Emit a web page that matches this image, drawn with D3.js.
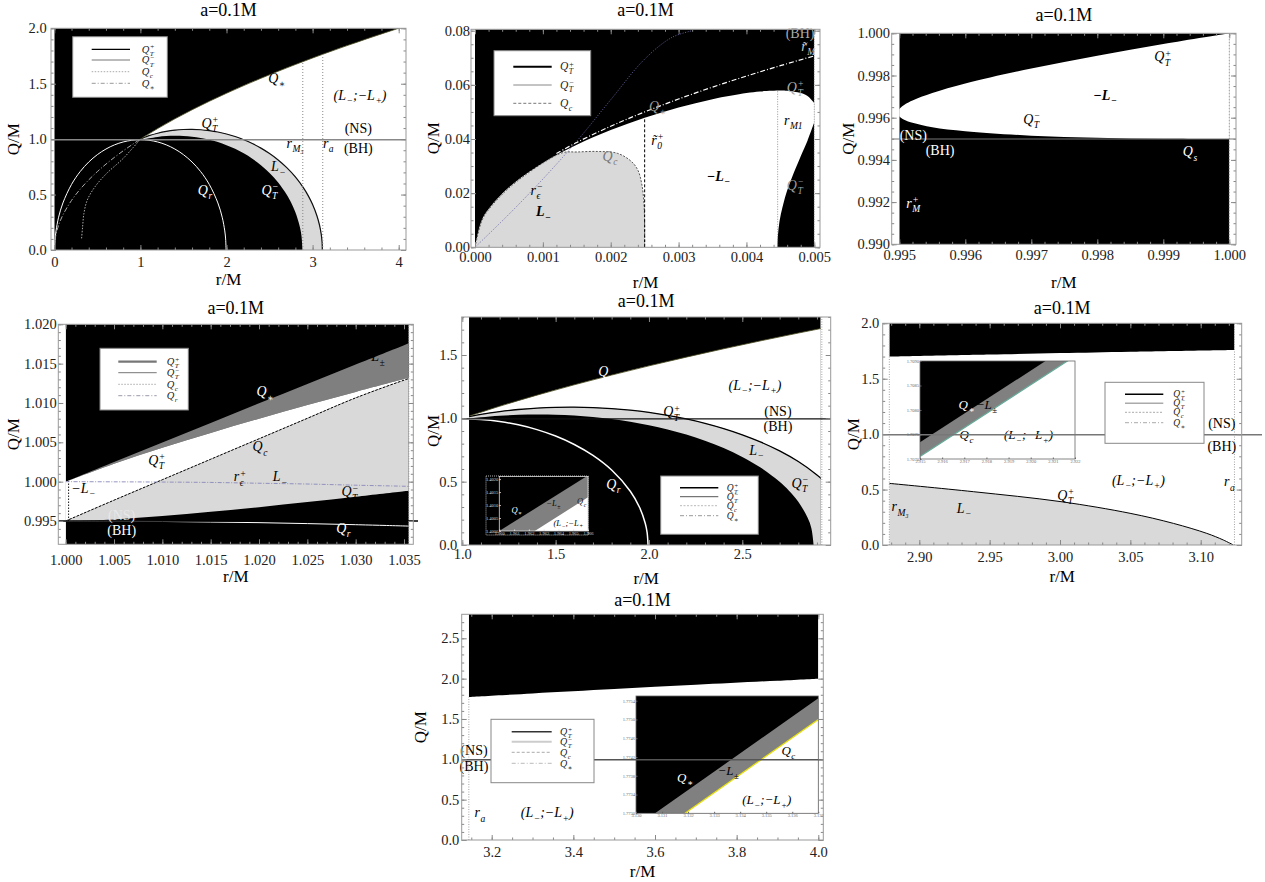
<!DOCTYPE html>
<html>
<head>
<meta charset="utf-8">
<script src="https://cdn.jsdelivr.net/npm/d3@7"></script>
<style>
  body { margin: 0; background: #fff; }
  svg text { font-family: "Liberation Serif", "DejaVu Serif", serif; }
  .ax text { font-size: 14.5px; fill: #222; }
  .ax line { stroke: #888; }
  .inax text { font-size: 4.5px; }
</style>
</head>
<body>
<svg id="fig" width="1265" height="882"></svg>
<script>
// ---------- curves shared by panels 1 and 5 ----------
var qtPlusR  = [1.0,1.01,1.02,1.03,1.05,1.1,1.2,1.3,1.4,1.5,1.6,1.7,1.8,1.9,2.0,2.1,2.2,2.3,2.4,2.5,2.6,2.7,2.8,2.9,2.95,3.0,3.05,3.08,3.1,3.11,3.113];
var qtPlusQ  = [1.0,1.0043,1.0080,1.0114,1.0177,1.0315,1.0535,1.0698,1.0808,1.0869,1.0883,1.0850,1.0770,1.0642,1.0465,1.0235,0.9950,0.9604,0.9191,0.8700,0.8120,0.7427,0.6587,0.5533,0.4883,0.4100,0.3090,0.2255,0.1430,0.0718,0];
var qtMinusR = [1.0,1.01,1.02,1.03,1.05,1.1,1.2,1.3,1.4,1.5,1.6,1.7,1.8,1.9,2.0,2.1,2.2,2.3,2.4,2.5,2.6,2.7,2.75,2.8,2.85,2.87,2.882];
var qtMinusQ = [0.995,0.9956,0.9968,0.9981,1.0009,1.0080,1.0198,1.0274,1.0305,1.0289,1.0225,1.0114,0.9950,0.9734,0.9460,0.9124,0.8720,0.8232,0.7652,0.6950,0.6089,0.4985,0.4285,0.3410,0.2150,0.1330,0];
var qStarR   = [0,0.005,0.02,0.05,0.1,0.2,0.3,0.4,0.5,0.6,0.7,0.8,0.9,1.0,1.2,1.4,1.6,1.8,2.0,2.2,2.4,2.6,2.8,3.0,3.2,3.4,3.6,3.8,4.0,4.1];
var qStarQ   = [0,0.0707,0.1414,0.2236,0.3162,0.4472,0.5477,0.6325,0.7071,0.7746,0.8367,0.8944,0.9487,1.0,1.0954,1.1832,1.2649,1.3416,1.4142,1.4832,1.5492,1.6125,1.6733,1.7321,1.7889,1.8439,1.8974,1.9494,2.0,2.0248];
var qHorR    = [0.005,0.01,0.02,0.05,0.1,0.2,0.3,0.4,0.5,0.6,0.7,0.8,0.9,1.0,1.1,1.2,1.3,1.4,1.5,1.6,1.7,1.8,1.9,1.95,1.98,1.99,1.995];
var qHorQ    = [0,0.0995,0.1720,0.2958,0.4243,0.5916,0.7071,0.7937,0.8602,0.9110,0.9487,0.9747,0.9899,0.9950,0.9899,0.9747,0.9487,0.9110,0.8602,0.7937,0.7071,0.5916,0.4243,0.2958,0.1720,0.0995,0];
var qNS = 0.995;   // NS / BH border

// ---------- panel 1 ----------
var p1QcR = [0.317,0.329,0.344,0.383,0.472,0.607,0.80,1.0];
var p1QcQ = [0.105,0.21,0.33,0.45,0.57,0.69,0.826,1.0];
var p1VR  = [2.886, 3.118];
var p1VQ  = [1.699, 1.766];

// ---------- panel 2 ----------
var p2UpR  = [0,0.0001,0.0002,0.0005,0.001,0.0015,0.002,0.0025,0.003,0.0035,0.004,0.0042,0.0045,0.0046,0.0048,0.0049,0.005];
var p2UpQ  = [0,0.00999,0.01411,0.02221,0.03118,0.03786,0.04328,0.04782,0.05162,0.05471,0.05697,0.05756,0.05790,0.05780,0.05696,0.0559,0.0533];
var p2LoR  = [0.005,0.0049,0.0048,0.0046,0.0045,0.00448,0.00447,0.00446,0.004458];
var p2LoQ  = [0.0462,0.03938,0.03365,0.02094,0.0113,0.00817,0.00606,0.0026,0];
var p2QcR  = [0,0.0001,0.0002,0.0005,0.001,0.0013,0.0015,0.0018,0.0021,0.0023,0.0024,0.00246,0.00249,0.0025,0.0025];
var p2QcQ  = [0,0.0098,0.0139,0.0219,0.0311,0.0350,0.0352,0.0354,0.0347,0.0318,0.0285,0.0230,0.0160,0.008,0];
var p2StarR = [0.0012,0.0015,0.002,0.0025,0.003,0.0035,0.004,0.0045,0.005];
var p2StarQ = [0.03464,0.03873,0.04472,0.05,0.05477,0.05916,0.06325,0.06708,0.07071];
var p2EpsR = [0,0.0005,0.001,0.0015,0.002,0.0025,0.0029,0.0032];
var p2EpsQ = [0,0.0122,0.0252,0.0392,0.0545,0.0695,0.0775,0.0800];

// ---------- panel 3 ----------
var p3R   = [0.994975,0.995,0.9951,0.9952,0.9955,0.996,0.997,0.998,0.999,1.0];
var p3UpQ = [0.99623,0.99641,0.99666,0.99682,0.99717,0.99762,0.99833,0.99894,0.99949,1.0];
var p3LoQ = [0.99623,0.99606,0.99587,0.99576,0.99555,0.99536,0.99515,0.99505,0.99500,0.99499];

// ---------- panel 4 ----------
var p4R      = [1.0,1.005,1.01,1.015,1.02,1.025,1.03,1.035,1.0355];
var p4Star   = [1.0,1.0025,1.00499,1.00747,1.00995,1.01242,1.01489,1.01735,1.01760];
var p4Plus   = [1.0,1.00228,1.00431,1.00620,1.00800,1.00973,1.01141,1.01304,1.01320];
var p4Qc     = [0.995,0.99765,1.00025,1.00285,1.00545,1.00805,1.01065,1.0129,1.0131];
var p4Minus  = [0.99499,0.99519,0.99562,0.99616,0.99676,0.99740,0.99807,0.99877,0.99883];
var p4Eps    = [1.0,0.99998,0.99995,0.9999,0.9998,0.9997,0.99955,0.99942,0.9994];
var p4Qr     = [0.99499,0.99498,0.99494,0.99487,0.99479,0.99467,0.99453,0.99437,0.99435];

// ---------- panel 5 inset ----------
var p5InStarR = [1.9600,1.9660], p5InStarQ = [1.40000,1.40214];
var p5InQcR   = [1.9624,1.9660], p5InQcQ   = [1.40000,1.40130];

// ---------- panel 6 ----------
var p6PlusR = [2.8787,2.9384,3.0007,3.0498,3.0806,3.1043,3.1161,3.1232];
var p6PlusQ = [0.556,0.481,0.391,0.286,0.195,0.105,0.045,0];
var p6StarR = [2.8787,2.95,3.00,3.05,3.124];
var p6StarQ = [1.699,1.718,1.731,1.744,1.760];
var p6InStarR = [2.915,2.922], p6InStarQ = [1.70734,1.70939];
var p6InQcR   = [2.915,2.922], p6InQcQ   = [1.70705,1.70910];

// ---------- panel 7 ----------
var p7StarR = [3.144,3.3,3.5,3.7,3.9,4.0];
var p7StarQ = [1.7731,1.8166,1.8708,1.9235,1.9748,2.0];
var p7InStarR = [3.13073,3.137], p7InStarQ = [1.7730,1.77545];
var p7InQcR   = [3.13188,3.137], p7InQcQ   = [1.7730,1.7750];

// ---------- tick labels ----------
var p1Xt = [0,1,2,3,4],                           p1Yt = [0,0.5,1,1.5,2];
var p2Xt = [0,0.001,0.002,0.003,0.004,0.005],     p2Yt = [0,0.02,0.04,0.06,0.08];
var p3Xt = [0.995,0.996,0.997,0.998,0.999,1.0],   p3Yt = [0.990,0.992,0.994,0.996,0.998,1.0];
var p4Xt = [1.0,1.005,1.01,1.015,1.02,1.025,1.03,1.035], p4Yt = [0.995,1.0,1.005,1.01,1.015,1.02];
var p5Xt = [1.0,1.5,2.0,2.5],                     p5Yt = [0,0.5,1.0,1.5];
var p6Xt = [2.9,2.95,3.0,3.05,3.1],               p6Yt = [0,0.5,1.0,1.5,2.0];
var p7Xt = [3.2,3.4,3.6,3.8,4.0],                 p7Yt = [0,0.5,1.0,1.5,2.0,2.5];
var p5InXt = [1.960,1.961,1.962,1.963,1.964,1.965,1.966], p5InYt = [1.4000,1.4005,1.4010,1.4015,1.4020];
var p6InXt = [2.915,2.916,2.917,2.918,2.919,2.920,2.921,2.922], p6InYt = [1.7070,1.7075,1.7080,1.7085,1.7090];
var p7InXt = [3.130,3.131,3.132,3.133,3.134,3.135,3.136,3.137], p7InYt = [1.7730,1.7734,1.7738,1.7742,1.7746,1.7750,1.7754];

var title = 'a=0.1M';

// ---------- drawing helpers ----------
var svg = d3.select('#fig');
svg.append('rect').attr('width', 1265).attr('height', 882).attr('fill', '#fff');
var clipId = 0;
var smooth = d3.curveCatmullRom.alpha(0.5);

function gen(p, pts) {
  return d3.line()
    .x(function(d) { return p.x(d[0]); })
    .y(function(d) { return p.y(d[1]); })
    .curve(pts.length > 2 ? smooth : d3.curveLinear)(pts);
}
// one closed outline made of several pieces
function area(layer, p, segs, fill) {
  var d = segs.map(function(s, i) {
    var s2 = gen(p, s).replace(/Z/g, '');
    return i ? 'L' + s2.slice(1) : s2;
  }).join('') + 'Z';
  layer.append('path').attr('d', d).attr('fill', fill);
}
function curve(layer, p, pts, stroke, w, dash) {
  layer.append('path').attr('d', gen(p, pts)).attr('fill', 'none')
    .attr('stroke', stroke).attr('stroke-width', w).attr('stroke-dasharray', dash || null);
}
function rev(a) { return a.slice().reverse(); }

// text with sub/superscripts: "Q_T^+", "r_{M1}", "(L_−;−L_+)"
function mtext(parent, x, y, str, o) {
  o = o || {};
  var fs = o.size || 14;
  var g = parent.append('g').attr('fill', o.color || '#000')
    .style('font-style', o.upright ? 'normal' : 'italic')
    .style('font-weight', o.bold ? 'bold' : 'normal');
  var toks = [], i = 0;
  while (i < str.length) {
    var ch = str[i];
    if (ch === '_' || ch === '^') {
      var t;
      if (str[i + 1] === '{') { var j = str.indexOf('}', i); t = str.slice(i + 2, j); i = j + 1; }
      else { t = str[i + 1]; i += 2; }
      toks.push({ k: ch, t: t });
    } else {
      var last = toks[toks.length - 1];
      if (last && last.k === 'n') last.t += ch; else toks.push({ k: 'n', t: ch });
      i++;
    }
  }
  var cx = 0, k = 0;
  while (k < toks.length) {
    if (toks[k].k === 'n') {
      var el = g.append('text').attr('x', cx).attr('y', 0).style('font-size', fs + 'px').text(toks[k].t);
      cx += el.node().getComputedTextLength(); k++;
    } else {
      var w = 0;
      while (k < toks.length && toks[k].k !== 'n') {
        var s = toks[k];
        var el2 = g.append('text').attr('x', cx + 0.5).attr('y', s.k === '_' ? fs * 0.3 : -fs * 0.34)
          .style('font-size', (fs * 0.68) + 'px').text(s.t);
        w = Math.max(w, el2.node().getComputedTextLength() + 0.5); k++;
      }
      cx += w;
    }
  }
  var dx = o.anchor === 'start' ? 0 : (o.anchor === 'end' ? -cx : -cx / 2);
  g.attr('transform', 'translate(' + (x + dx) + ',' + (y + fs * 0.33) + ')');
  return g;
}
function labels(layer, p, arr, size) {
  arr.forEach(function(l) {
    var f = l[4] || '';
    mtext(layer, p.x(l[0]), p.y(l[1]), l[2], {
      color: l[3], size: size || 14, upright: f.indexOf('u') >= 0, bold: f.indexOf('b') >= 0
    });
  });
}

function makePanel(c) {
  var p = { c: c };
  p.g = svg.append('g');
  p.x = d3.scaleLinear().domain(c.xd).range(c.xr);
  p.y = d3.scaleLinear().domain(c.yd).range(c.yr);
  var b = c.clip, id = 'clip' + (clipId++);
  p.g.append('clipPath').attr('id', id).append('rect')
    .attr('x', p.x(b[0])).attr('y', p.y(b[3]))
    .attr('width', p.x(b[1]) - p.x(b[0])).attr('height', p.y(b[2]) - p.y(b[3]));
  p.fill = p.g.append('g').attr('clip-path', 'url(#' + id + ')');
  var f = c.frame, fid = 'clip' + (clipId++);
  p.g.append('clipPath').attr('id', fid).append('rect')
    .attr('x', f[0]).attr('y', f[1]).attr('width', f[2] - f[0]).attr('height', f[3] - f[1]);
  p.over = p.g.append('g').attr('clip-path', 'url(#' + fid + ')');
  if (c.base) {
    p.fill.append('rect').attr('x', p.x(b[0])).attr('y', p.y(b[3]))
      .attr('width', p.x(b[1]) - p.x(b[0])).attr('height', p.y(b[2]) - p.y(b[3])).attr('fill', c.base);
  }
  return p;
}

function minorTicks(a, b, s) {
  var out = [];
  for (var i = Math.ceil(a / s - 1e-9); i * s <= b + 1e-12; i++) out.push(+(i * s).toFixed(10));
  return out;
}

function finish(p) {
  var c = p.c, f = c.frame, g = p.g.append('g');
  var xm = minorTicks(p.x.invert(f[0]), p.x.invert(f[2]), c.xm);
  var ym = minorTicks(p.y.invert(f[3]), p.y.invert(f[1]), c.ym);
  function put(axis, tr) {
    g.append('g').attr('class', 'ax').attr('transform', tr).call(axis)
      .call(function(s) { s.select('.domain').remove(); });
  }
  put(d3.axisBottom(p.x).tickValues(c.xt).tickFormat(d3.format(c.xf)).tickSize(-5).tickPadding(c.xp), 'translate(0,' + f[3] + ')');
  put(d3.axisBottom(p.x).tickValues(xm).tickFormat('').tickSize(-2.5), 'translate(0,' + f[3] + ')');
  put(d3.axisTop(p.x).tickValues(c.xt).tickFormat('').tickSize(-5), 'translate(0,' + f[1] + ')');
  put(d3.axisTop(p.x).tickValues(xm).tickFormat('').tickSize(-2.5), 'translate(0,' + f[1] + ')');
  put(d3.axisLeft(p.y).tickValues(c.yt).tickFormat(d3.format(c.yf)).tickSize(-5).tickPadding(c.yp), 'translate(' + f[0] + ',0)');
  put(d3.axisLeft(p.y).tickValues(ym).tickFormat('').tickSize(-2.5), 'translate(' + f[0] + ',0)');
  put(d3.axisRight(p.y).tickValues(c.yt).tickFormat('').tickSize(-5), 'translate(' + f[2] + ',0)');
  put(d3.axisRight(p.y).tickValues(ym).tickFormat('').tickSize(-2.5), 'translate(' + f[2] + ',0)');
  g.append('rect').attr('x', f[0]).attr('y', f[1]).attr('width', f[2] - f[0]).attr('height', f[3] - f[1])
    .attr('fill', 'none').attr('stroke', '#999').attr('stroke-width', 1);
  var cx = (f[0] + f[2]) / 2;
  g.append('text').attr('x', cx + (c.tdx || 0)).attr('y', c.ty).attr('text-anchor', 'middle')
    .style('font-size', '18px').text(title);
  g.append('text').attr('x', cx).attr('y', c.ry).attr('text-anchor', 'middle')
    .style('font-size', '17px').text('r/M');
  g.append('text').attr('transform', 'translate(' + c.qx + ',' + ((f[1] + f[3]) / 2) + ') rotate(-90)')
    .attr('text-anchor', 'middle').style('font-size', '17px').text('Q/M');
}

function hline(p, q, x0, x1, stroke, w) {
  p.g.append('line').attr('x1', x0).attr('x2', x1).attr('y1', p.y(q)).attr('y2', p.y(q))
    .attr('stroke', stroke).attr('stroke-width', w);
}

function legend(p, L) {
  var b = L.box, g = p.g.append('g');
  g.append('rect').attr('x', b[0]).attr('y', b[1]).attr('width', b[2] - b[0]).attr('height', b[3] - b[1])
    .attr('fill', '#fff').attr('stroke', '#888').attr('stroke-width', 1);
  L.rows.forEach(function(r, i) {
    g.append('line').attr('x1', L.lx[0]).attr('x2', L.lx[1]).attr('y1', L.ys[i]).attr('y2', L.ys[i])
      .attr('stroke', r[1]).attr('stroke-width', r[2]).attr('stroke-dasharray', r[3] || null);
    mtext(g, L.tx, L.ys[i], r[0], { size: L.size || 10.5, anchor: 'start', color: '#222' });
  });
}

function inset(p, c) {
  var g = p.g.append('g');
  var q = {
    x: d3.scaleLinear().domain(c.xd).range([c.box[0], c.box[2]]),
    y: d3.scaleLinear().domain(c.yd).range([c.box[3], c.box[1]])
  };
  var b = c.box;
  if (c.outer) {
    g.append('rect').attr('x', c.outer[0]).attr('y', c.outer[1])
      .attr('width', c.outer[2] - c.outer[0]).attr('height', c.outer[3] - c.outer[1])
      .attr('fill', c.outerFill).attr('stroke', c.tc).attr('stroke-width', 0.8).attr('stroke-dasharray', '1,1');
  }
  var id = 'clip' + (clipId++);
  g.append('clipPath').attr('id', id).append('rect')
    .attr('x', b[0]).attr('y', b[1]).attr('width', b[2] - b[0]).attr('height', b[3] - b[1]);
  var L = g.append('g').attr('clip-path', 'url(#' + id + ')');
  L.append('rect').attr('x', b[0]).attr('y', b[1]).attr('width', b[2] - b[0]).attr('height', b[3] - b[1]).attr('fill', '#000');
  var x0 = c.xd[0], x1 = c.xd[1], y0 = c.yd[0];
  area(L, q, [d3.zip(c.starR, c.starQ), [[x1, y0], [x0, y0]]], '#808080');
  area(L, q, [d3.zip(c.qcR, c.qcQ), [[x1, y0], [x0, y0]]], '#fff');
  if (c.qcLine) curve(L, q, d3.zip(c.qcR, c.qcQ), c.qcLine, 1.2);
  function put(axis, tr) {
    g.append('g').attr('class', 'ax inax').attr('transform', tr).call(axis)
      .call(function(s) {
        s.select('.domain').remove();
        s.selectAll('text').style('fill', c.tc);
        s.selectAll('line').style('stroke', c.tc);
      });
  }
  put(d3.axisBottom(q.x).tickValues(c.xt).tickFormat(d3.format('.3f')).tickSize(-1.5).tickPadding(1), 'translate(0,' + b[3] + ')');
  put(d3.axisLeft(q.y).tickValues(c.yt).tickFormat(d3.format('.4f')).tickSize(-1.5).tickPadding(1), 'translate(' + b[0] + ',0)');
  g.append('rect').attr('x', b[0]).attr('y', b[1]).attr('width', b[2] - b[0]).attr('height', b[3] - b[1])
    .attr('fill', 'none').attr('stroke', c.tc).attr('stroke-width', 0.8);
  labels(g, q, c.labels, c.lsize);
  return q;
}

// ================= panel 1 =================
var plus = d3.zip(qtPlusR, qtPlusQ), minus = d3.zip(qtMinusR, qtMinusQ);
var star = d3.zip(qStarR, qStarQ), hor = d3.zip(qHorR, qHorQ);
var starOut = star.filter(function(d) { return d[0] >= 1; });
var starIn = star.filter(function(d) { return d[0] <= 1; });

var p1 = makePanel({ xd: [0, 4], xr: [54.3, 398.7], yd: [0, 2], yr: [250, 28.3], frame: [51, 28.3, 406, 250],
  clip: [0, 4.085, 0, 2], base: '#000', xt: p1Xt, yt: p1Yt, xf: 'd', yf: '.1f', xm: 0.2, ym: 0.1, xp: 6.8, yp: 4.3,
  ty: 15.5, ry: 285, qx: 19 });
area(p1.fill, p1, [starOut, [[4.1, 0]], rev(plus)], '#fff');
area(p1.fill, p1, [plus, rev(minus)], '#d9d9d9');
curve(p1.fill, p1, hor, '#fff', 1);
curve(p1.fill, p1, starIn, '#aaa', 1, '5,2,1,2');
curve(p1.fill, p1, d3.zip(p1QcR, p1QcQ), '#aaa', 1, '1.5,1.5');
curve(p1.fill, p1, plus, '#111', 1.2);
curve(p1.fill, p1, starOut, '#4a4a20', 0.8);
p1VR.forEach(function(r, i) { curve(p1.fill, p1, [[r, 0], [r, p1VQ[i]]], '#888', 1, '1,2'); });
hline(p1, qNS, 51, 406, '#888', 1.6);
legend(p1, { box: [72.7, 36.7, 167.3, 97.3], lx: [91.7, 130], tx: 141.7, ys: [49.3, 60, 71.7, 83.3],
  rows: [['Q_T^+', '#000', 1.2], ['Q_T^−', '#777', 1], ['Q_c', '#aaa', 1, '1.5,1.5'], ['Q_∗', '#999', 1, '4,2,1,2']] });
labels(p1.g, p1, [
  [2.583, 1.549, 'Q_∗', '#000'], [3.551, 1.398, '(L_−;−L_+)', '#000'], [1.808, 1.143, 'Q_T^+', '#000'],
  [3.531, 1.098, '(NS)', '#000', 'u'], [3.531, 0.917, '(BH)', '#000', 'u'], [2.796, 0.963, 'r_{M₃}', '#000'],
  [3.182, 0.963, 'r_a', '#000'], [2.602, 0.751, 'L_−', '#000'], [2.505, 0.541, 'Q_T^−', '#fff'], [1.750, 0.541, 'Q_r', '#fff']
]);
finish(p1);

// ================= panel 2 =================
var p2 = makePanel({ xd: [0, 0.005], xr: [475, 814.3], yd: [0, 0.08], yr: [247.3, 30.7], frame: [471, 29.3, 820, 247.3],
  clip: [0, 0.005, 0, 0.0805], base: '#000', xt: p2Xt, yt: p2Yt, xf: '.3f', yf: '.2f', xm: 0.0002, ym: 0.005, xp: 4.5, yp: 1,
  ty: 15.5, ry: 288, qx: 439 });
area(p2.fill, p2, [d3.zip(p2UpR, p2UpQ), d3.zip(p2LoR, p2LoQ)], '#fff');
area(p2.fill, p2, [d3.zip(p2QcR, p2QcQ)], '#d9d9d9');
curve(p2.fill, p2, d3.zip(p2QcR, p2QcQ), '#555', 1, '2,1.5');
curve(p2.fill, p2, d3.zip(p2EpsR, p2EpsQ), '#6a6aaa', 0.9, '1,1.5');
curve(p2.fill, p2, d3.zip(p2StarR, p2StarQ), '#fff', 1.2, '5,2,1,2');
curve(p2.fill, p2, [[0.0025, 0], [0.0025, 0.0478]], '#000', 1, '3,2');
curve(p2.fill, p2, [[0.00446, 0], [0.00446, 0.0579]], '#888', 0.9, '1,1.5');
curve(p2.over, p2, [[0.005, 0], [0.005, 0.0805]], '#999', 0.9, '1,1.5');
legend(p2, { box: [494, 50.7, 590.7, 115.7], lx: [513.3, 551.7], tx: 560, ys: [66.7, 85, 103.3], size: 11.5,
  rows: [['Q_T^+', '#000', 2], ['Q_T^−', '#888', 1], ['Q_c', '#777', 1, '3,2']] });
labels(p2.g, p2, [
  [0.00479, 0.0790, '(BH)', '#aaa', 'u'], [0.00491, 0.0741, 'r̃_M', '#ccc'], [0.00472, 0.0591, 'Q_T^+', '#aaa'],
  [0.00469, 0.0470, 'r_{M1}', '#000'], [0.00472, 0.0230, 'Q_T^−', '#999'], [0.003586, 0.0261, '−L_−', '#000', 'b'],
  [0.001007, 0.01315, 'L_−', '#000', 'b'], [0.00091, 0.0212, 'r_ϵ^−', '#000'], [0.00199, 0.0337, 'Q_c', '#777'],
  [0.00269, 0.0522, 'Q_∗', '#999'], [0.00269, 0.0396, 'r̃_0^+', '#000']
]);
finish(p2);

// ================= panel 3 =================
var p3 = makePanel({ xd: [0.995, 1.0], xr: [899.3, 1229.3], yd: [0.99, 1.0], yr: [244.3, 33.3], frame: [891.7, 33.3, 1236, 244.3],
  clip: [0.995, 1.0, 0.99, 1.0], base: '#000', xt: p3Xt, yt: p3Yt, xf: '.3f', yf: '.3f', xm: 0.0002, ym: 0.0005, xp: 5.8, yp: 1.7,
  ty: 20.5, ry: 288, qx: 854 });
area(p3.fill, p3, [d3.zip(p3R, p3UpQ), rev(d3.zip(p3R, p3LoQ))], '#fff');
hline(p3, 0.99499, 891.7, 1236, '#777', 1.2);
curve(p3.over, p3, [[1.0, 0.99], [1.0, 1.0]], '#999', 0.9, '1.5,1.5');
labels(p3.g, p3, [
  [0.998991, 0.998891, 'Q_T^+', '#000'], [0.998117, 0.997076, '−L_−', '#000', 'b'], [0.997006, 0.995924, 'Q_T^−', '#000'],
  [0.995212, 0.99518, '(NS)', '#fff', 'u'], [0.995617, 0.994436, '(BH)', '#fff', 'u'], [0.999405, 0.994389, 'Q_s', '#fff'],
  [0.995212, 0.991943, 'r_M^+', '#fff']
]);
finish(p3);

// ================= panel 4 =================
var p4 = makePanel({ xd: [1.0, 1.035], xr: [65.7, 404], yd: [0.995, 1.02], yr: [521, 324.3], frame: [58.3, 324.3, 413.3, 544.3],
  clip: [1.0, 1.0355, 0.99203, 1.02], base: '#000', xt: p4Xt, yt: p4Yt, xf: '.3f', yf: '.3f', xm: 0.001, ym: 0.001, xp: 10.8, yp: 1.6,
  ty: 313.5, ry: 582, qx: 19 });
area(p4.fill, p4, [d3.zip(p4R, p4Star), rev(d3.zip(p4R, p4Plus))], '#7f7f7f');
area(p4.fill, p4, [d3.zip(p4R, p4Plus), rev(d3.zip(p4R, p4Qc))], '#fff');
area(p4.fill, p4, [d3.zip(p4R, p4Qc), rev(d3.zip(p4R, p4Minus))], '#d9d9d9');
curve(p4.fill, p4, d3.zip(p4R, p4Qc), '#000', 1, '2.5,1.5');
curve(p4.fill, p4, d3.zip(p4R, p4Eps), '#8888bb', 0.9, '4,1.5,1,1.5');
curve(p4.fill, p4, d3.zip(p4R, p4Qr), '#fff', 1);
curve(p4.fill, p4, [[1.0003, 0.995], [1.0003, 1.0]], '#000', 0.9, '1.5,1.5');
curve(p4.over, p4, [[1.0355, 0.99203], [1.0355, 1.02]], '#999', 0.9, '1,1.5');
hline(p4, qNS, 58.3, 418, '#000', 1.3);
legend(p4, { box: [100, 348.3, 188.3, 410], lx: [118.3, 156.7], tx: 166.7, ys: [361.7, 372.7, 384.3, 395.7],
  rows: [['Q_T^+', '#777', 2.2], ['Q_T^−', '#777', 1], ['Q_c', '#aaa', 1, '1.5,1.5'], ['Q_r', '#99a', 1, '4,2,1,2']] });
labels(p4.g, p4, [
  [1.02062, 1.01143, 'Q_∗', '#fff'], [1.03182, 1.01588, '−L_±', '#000'], [1.00941, 1.00275, 'Q_T^+', '#000'],
  [1.0201, 1.00444, 'Q_c', '#000'], [1.01803, 1.00063, 'r_ϵ^+', '#000'], [1.02217, 1.00063, 'L_−', '#000'],
  [1.00182, 0.99916, '−L_−', '#000'], [1.02941, 0.99872, 'Q_T^−', '#000'], [1.00579, 0.99576, '(NS)', '#e8e8e8', 'u'],
  [1.00579, 0.99386, '(BH)', '#fff', 'u'], [1.02872, 0.99407, 'Q_r', '#fff']
]);
finish(p4);

// ================= panel 5 =================
var p5 = makePanel({ xd: [1.0, 2.5], xr: [462.3, 742.3], yd: [0, 1.5], yr: [545, 355], frame: [461.7, 317, 830.7, 545],
  clip: [1.036, 2.92, 0, 1.8], base: '#000', xt: p5Xt, yt: p5Yt, xf: '.1f', yf: '.1f', xm: 0.1, ym: 0.1, xp: 3.4, yp: 4.4,
  ty: 306.5, ry: 583.5, qx: 439 });
area(p5.fill, p5, [starOut, rev(plus)], '#fff');
area(p5.fill, p5, [plus, rev(minus)], '#d9d9d9');
curve(p5.fill, p5, hor.filter(function(d) { return d[0] >= 1; }), '#fff', 1.5);
curve(p5.fill, p5, plus, '#000', 1.3);
curve(p5.fill, p5, starOut, '#4a4a20', 0.8);
curve(p5.over, p5, [[2.926, 0], [2.926, 1.8]], '#999', 0.9, '1,1.5');
hline(p5, qNS, 461.7, 830.7, '#111', 1.2);
inset(p5, { box: [499.3, 476.5, 588, 531], outer: [486, 476, 588.3, 535], outerFill: '#000', tc: '#ddd',
  xd: [1.960, 1.966], yd: [1.4000, 1.4021], xt: p5InXt, yt: p5InYt,
  starR: p5InStarR, starQ: p5InStarQ, qcR: p5InQcR, qcQ: p5InQcQ, lsize: 8.5,
  labels: [[1.96118, 1.40081, 'Q_∗', '#fff'], [1.96365, 1.40107, '−L_±', '#000'], [1.96557, 1.40113, 'Q_c', '#222'],
           [1.96467, 1.40032, '(L_−;−L_+', '#000']] });
legend(p5, { box: [660.7, 476, 758.3, 534.3], lx: [680, 718.3], tx: 726.7, ys: [487.7, 496.7, 505.7, 515.7], size: 9.5,
  rows: [['Q_T^+', '#000', 1.5], ['Q_T^−', '#555', 1], ['Q_c', '#bbb', 1, '2,1.5'], ['Q_∗', '#999', 1, '4,2,1,2']] });
labels(p5.g, p5, [
  [1.7736, 1.368, 'Q_∗', '#fff'], [2.568, 1.263, '(L_−;−L_+)', '#000'], [2.1218, 1.052, 'Q_T^+', '#000'],
  [2.691, 1.052, '(NS)', '#000', 'u'], [2.691, 0.934, '(BH)', '#000', 'u'], [2.577, 0.750, 'L_−', '#000'],
  [2.809, 0.487, 'Q_T^−', '#000'], [1.809, 0.479, 'Q_r', '#fff']
]);
finish(p5);

// ================= panel 6 =================
var p6 = makePanel({ xd: [2.9, 3.1], xr: [919.3, 1200.7], yd: [0, 2], yr: [545, 323.3], frame: [882.7, 323.3, 1241.7, 545],
  clip: [2.8787, 3.124, 0, 2], base: null, xt: p6Xt, yt: p6Yt, xf: '.2f', yf: '.1f', xm: 0.01, ym: 0.1, xp: 6.8, yp: 3.4,
  ty: 313.5, ry: 582, qx: 859 });
area(p6.fill, p6, [d3.zip(p6StarR, p6StarQ), [[3.124, 2.1], [2.8787, 2.1]]], '#000');
area(p6.fill, p6, [d3.zip(p6PlusR, p6PlusQ), [[2.8787, 0]]], '#d9d9d9');
curve(p6.fill, p6, d3.zip(p6PlusR, p6PlusQ), '#000', 1);
curve(p6.over, p6, [[2.8787, 0], [2.8787, 2]], '#999', 0.9, '1,1.5');
curve(p6.over, p6, [[3.124, 0], [3.124, 2]], '#999', 0.9, '1,1.5');
inset(p6, { box: [920, 361, 1075, 459], tc: '#666',
  xd: [2.915, 2.922], yd: [1.7070, 1.7090], xt: p6InXt, yt: p6InYt,
  starR: p6InStarR, starQ: p6InStarQ, qcR: p6InQcR, qcQ: p6InQcQ, qcLine: '#6a9', lsize: 13,
  labels: [[2.9171, 1.70810, 'Q_∗', '#fff'], [2.9180, 1.70810, '−L_±', '#000'], [2.9171, 1.70749, 'Q_c', '#000'],
           [2.9199, 1.70749, '(L_−;−L_+)', '#000']] });
hline(p6, qNS, 882.7, 1262, '#777', 1.5);
legend(p6, { box: [1105, 382.3, 1204, 443.3], lx: [1125, 1163.3], tx: 1173.3, ys: [394.3, 403.3, 412.3, 422.7], size: 9.5,
  rows: [['Q_T^+', '#000', 1.5], ['Q_T^−', '#aaa', 1.5], ['Q_c', '#aaa', 1, '2,1.5'], ['Q_∗', '#aaa', 1, '4,2,1,2']] });
labels(p6.g, p6, [
  [3.115, 1.098, '(NS)', '#000', 'u'], [3.115, 0.887, '(BH)', '#000', 'u'], [3.0557, 0.586, '(L_−;−L_+)', '#000'],
  [3.1204, 0.571, 'r_a', '#000'], [3.0041, 0.451, 'Q_T^+', '#000'], [2.8863, 0.3455, 'r_{M₃}', '#000'],
  [2.9318, 0.331, 'L_−', '#000']
]);
finish(p6);

// ================= panel 7 =================
var p7 = makePanel({ xd: [3.2, 4.0], xr: [491.7, 818.3], yd: [0, 2.5], yr: [840, 638.3], frame: [461.7, 614.3, 823.3, 840],
  clip: [3.144, 4.0, 0, 2.8], base: null, xt: p7Xt, yt: p7Yt, xf: '.1f', yf: '.1f', xm: 0.05, ym: 0.1, xp: 6.8, yp: 2.4,
  ty: 605.5, ry: 877, qx: 426 });
area(p7.fill, p7, [d3.zip(p7StarR, p7StarQ), [[4.0, 2.9], [3.144, 2.9]]], '#000');
curve(p7.over, p7, [[3.144, 0], [3.144, 1.7731]], '#999', 0.9, '1,1.5');
inset(p7, { box: [636, 696, 818.3, 813.3], tc: '#666',
  xd: [3.130, 3.137], yd: [1.7730, 1.7755], xt: p7InXt, yt: p7InYt,
  starR: p7InStarR, starQ: p7InStarQ, qcR: p7InQcR, qcQ: p7InQcQ, qcLine: '#e8e000', lsize: 13,
  labels: [[3.13188, 1.77375, 'Q_∗', '#fff'], [3.13354, 1.7739, '−L_±', '#000'], [3.13585, 1.77434, 'Q_c', '#000'],
           [3.13502, 1.77328, '(L_−;−L_+)', '#000']] });
hline(p7, qNS, 461.7, 823.3, '#555', 1.5);
legend(p7, { box: [491, 719.3, 594, 782.7], lx: [511.7, 551.7], tx: 560, ys: [731.7, 741.7, 752.3, 763.3], size: 10,
  rows: [['Q_T^+', '#333', 1.5], ['Q_T^−', '#ccc', 2], ['Q_c', '#aaa', 1, '3,2'], ['Q_∗', '#bbb', 1, '4,2,1,2']] });
labels(p7.g, p7, [
  [3.1566, 1.107, '(NS)', '#000', 'u'], [3.1566, 0.909, '(BH)', '#000', 'u'], [3.1713, 0.338, 'r_a', '#000'],
  [3.336, 0.338, '(L_−;−L_+)', '#000']
]);
finish(p7);
</script>
</body>
</html>
